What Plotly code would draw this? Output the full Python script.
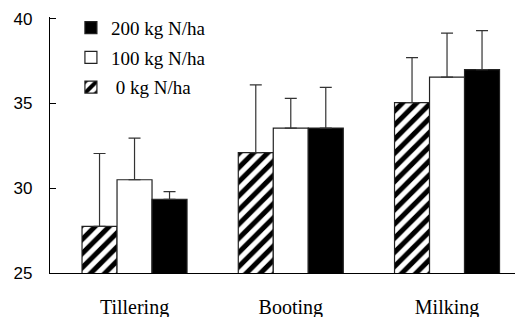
import plotly.graph_objects as go

categories = ["Tillering", "Booting", "Milking"]
series_names = ["\u00a00 kg N/ha", "100 kg N/ha", "200 kg N/ha"]
vals_0 = [27.75, 32.1, 35.05]
vals_100 = [30.5, 33.55, 36.55]
vals_200 = [29.35, 33.55, 37.0]
err_0 = [4.3, 4.0, 2.65]
err_100 = [2.45, 1.75, 2.6]
err_200 = [0.45, 2.4, 2.3]
y_ticks = [25, 30, 35, 40]

fig = go.Figure()

styles = [
    dict(color="white", pattern=dict(shape="/", fgcolor="black", bgcolor="white", fgopacity=1,
                                     size=10, solidity=0.5, fillmode="replace")),
    dict(color="white"),
    dict(color="black"),
]
ranks = [3, 2, 1]
for name, vals, errs, st, rk in zip(series_names, [vals_0, vals_100, vals_200], [err_0, err_100, err_200], styles, ranks):
    marker = dict(color=st["color"], line=dict(color="#222", width=1.2))
    if "pattern" in st:
        marker["pattern"] = st["pattern"]
    fig.add_trace(go.Bar(
        x=categories, y=vals, name=name, legendgroup=name, legendrank=rk,
        marker=marker,
        error_y=dict(type="data", symmetric=False, array=errs, arrayminus=[0] * len(errs),
                     color="#333", thickness=1.2, width=6),
    ))

fig.update_layout(
    width=515, height=317,
    margin=dict(l=50, r=0, t=17, b=44, autoexpand=False),
    paper_bgcolor="white", plot_bgcolor="white",
    barmode="group", bargap=0.328, bargroupgap=0,
    showlegend=True,
    legend=dict(x=0.045, y=1.032, xanchor="left", yanchor="top",
                traceorder="grouped", tracegroupgap=2,
                font=dict(family="Liberation Serif, Times New Roman, serif", size=19, color="black"),
                bgcolor="rgba(0,0,0,0)"),
    xaxis=dict(range=[-0.541, 2.435], showline=True, linecolor="black", linewidth=1.2,
               ticks="", showgrid=False, zeroline=False, automargin=False,
               tickfont=dict(family="Liberation Serif, Times New Roman, serif", size=20, color="black"),
               ticklabelstandoff=16),
    yaxis=dict(range=[25, 40.1], tickvals=y_ticks, showline=True, linecolor="black", linewidth=1.2,
               ticks="inside", ticklen=6, tickcolor="black", showgrid=False, zeroline=False,
               automargin=False,
               tickfont=dict(family="Liberation Sans, Arial, sans-serif", size=17, color="black"),
               ticklabelstandoff=13),
)

fig.write_html("out.html", config={"displayModeBar": False},
               post_script="document.body.style.margin='0';")
